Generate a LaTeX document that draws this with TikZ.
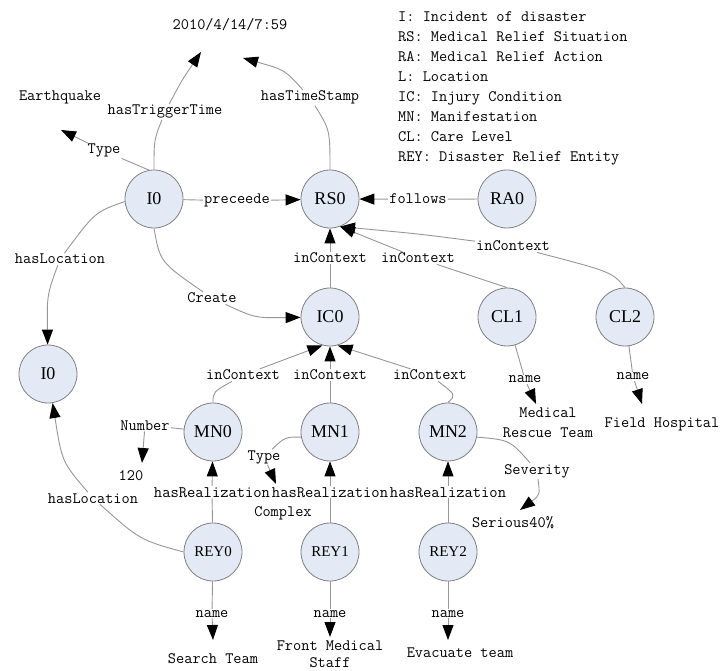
\documentclass[tikz,border=0pt]{standalone}
\usepackage{fontspec}
\newfontfamily\nodefont{Liberation Serif}
\usetikzlibrary{arrows.meta}
\definecolor{circFill}{RGB}{227,234,245}
\definecolor{circEdge}{RGB}{128,128,128}
\definecolor{lineGray}{RGB}{150,150,150}
\begin{document}
\begin{tikzpicture}[x=1pt,y=-1pt,
 ent/.style={circle,draw=circEdge,fill=circFill,line width=0.8pt,minimum size=58pt,inner sep=0pt,font=\nodefont\fontsize{18}{18}\selectfont},
 entsm/.style={ent,font=\nodefont\fontsize{15}{15}\selectfont},
 txt/.style={inner sep=1pt,font=\ttfamily\fontsize{15.9}{18}\selectfont,anchor=base},
 lbl/.style={txt,fill=white},
 hrlbl/.style={lbl,inner xsep=0pt,font=\ttfamily\fontsize{16.1}{18}\selectfont},
 ln/.style={draw=lineGray,line width=0.9pt},
 arr/.style={ln,-{Triangle[length=15pt,width=11pt,color=black]}}
]
\useasboundingbox (0,0) rectangle (721,671);

% entity circles
\node[ent] (I0) at (154,199) {I0};
\node[ent] (RS0) at (330,199) {RS0};
\node[ent] (RA0) at (507,199) {RA0};
\node[ent] (IC0) at (330,317) {IC0};
\node[ent] (CL1) at (507,317) {CL1};
\node[ent] (CL2) at (625,317) {CL2};
\node[ent] (L0) at (48,374) {I0};
\node[ent] (MN0) at (213,432) {MN0};
\node[ent] (MN1) at (330,432) {MN1};
\node[ent] (MN2) at (448,432) {MN2};
\node[entsm] (REY0) at (213,552) {REY0};
\node[entsm] (REY1) at (330,552) {REY1};
\node[entsm] (REY2) at (448,552) {REY2};

% value texts
\node[txt] (ts) at (230,30) {2010/4/14/7:59};
\node[txt] (eq) at (60,101) {Earthquake};
\node[txt] (v120) at (131,480) {120};
\node[txt] (cx) at (283,516) {Complex};
\node[txt] (ser) at (513,527) {Serious40\%};
\node[txt] (st) at (213,663) {Search Team};
\node[txt] (et) at (460,657) {Evacuate team};
\node[inner sep=1pt,font=\ttfamily\fontsize{15.9}{20}\selectfont,align=center] (mrt) at (548,423) {Medical\\Rescue Team};
\node[inner sep=1pt,font=\ttfamily\fontsize{15.9}{17}\selectfont,align=center] (fms) at (330,654) {Front Medical\\Staff};
\node[txt] (fh) at (662,428) {Field Hospital};

% legend
\node[txt,anchor=base west] (leg1) at (397,22) {I: Incident of disaster};
\node[txt,anchor=base west] (leg2) at (397,42) {RS: Medical Relief Situation};
\node[txt,anchor=base west] (leg3) at (397,62) {RA: Medical Relief Action};
\node[txt,anchor=base west] (leg4) at (397,82) {L: Location};
\node[txt,anchor=base west] (leg5) at (397,102) {IC: Injury Condition};
\node[txt,anchor=base west] (leg6) at (397,122) {MN: Manifestation};
\node[txt,anchor=base west] (leg7) at (397,142) {CL: Care Level};
\node[txt,anchor=base west] (leg8) at (397,162) {REY: Disaster Relief Entity};

% edge labels
\node[lbl] (lTT) at (165,115) {hasTriggerTime};
\node[lbl] (lTS) at (310,101) {hasTimeStamp};
\node[lbl] (lType) at (104,154) {Type};
\node[lbl] (lPre) at (237,204) {preceede};
\node[lbl] (lFol) at (418,204) {follows};
\node[lbl] (lLoc1) at (60,264) {hasLocation};
\node[lbl] (lCre) at (212,303) {Create};
\node[lbl] (lIC1) at (330,263) {inContext};
\node[lbl] (lIC2) at (418,263) {inContext};
\node[lbl] (lIC3) at (513,251) {inContext};
\node[lbl] (lIC4) at (243,380) {inContext};
\node[lbl] (lIC5) at (330,380) {inContext};
\node[lbl] (lIC6) at (430,380) {inContext};
\node[lbl] (lN1) at (525,383) {name};
\node[lbl] (lN2) at (633,380) {name};
\node[lbl] (lNum) at (145,430) {Number};
\node[lbl] (lTy2) at (264,460) {Type};
\node[lbl] (lSev) at (537,474) {Severity};
\node[hrlbl] (lHR0) at (212,497) {hasRealization};
\node[hrlbl] (lHR1) at (330,497) {hasRealization};
\node[hrlbl] (lHR2) at (448,497) {hasRealization};
\node[lbl] (lLoc2) at (93,503) {hasLocation};
\node[lbl] (lNm0) at (212,617) {name};
\node[lbl] (lNm1) at (330,617) {name};
\node[lbl] (lNm2) at (448,617) {name};

% free arrow ends
\coordinate (tEQ) at (61,130);
\coordinate (tTT) at (201,52);
\coordinate (tTS) at (243,58);
\coordinate (t120) at (142,463);
\coordinate (tCx) at (276,484);
\coordinate (tSer) at (520,510);
\coordinate (tN1) at (536,404);
\coordinate (tN2) at (642,404);
\coordinate (tSt) at (213,640);
\coordinate (tFm) at (330,637);
\coordinate (tEt) at (448,640);

% edges
\draw[ln] (I0.north) .. controls (154,140) .. (lTT);
\draw[arr] (lTT) .. controls (182,80) .. (tTT);
\draw[ln] (RS0.north) .. controls (330,130) .. (lTS);
\draw[arr] (lTS) .. controls (285,70) .. (tTS);
\draw[ln] (I0.100) -- (lType);
\draw[arr] (lType) -- (tEQ);
\draw[ln] (I0) -- (lPre);
\draw[arr] (lPre) -- (RS0);
\draw[ln] (RA0) -- (lFol);
\draw[arr] (lFol) -- (RS0);
\draw[ln] (IC0) -- (lIC1);
\draw[arr] (lIC1) -- (RS0);
\draw[ln] (CL1.north) -- (lIC2);
\draw[arr] (lIC2) -- (RS0.-70);
\draw[ln] (CL2.north) .. controls (612,272) .. (lIC3);
\draw[arr] (lIC3) .. controls (420,234) .. (RS0.-70);
\draw[ln] (I0.185) .. controls (95,212) .. (lLoc1);
\draw[arr] (lLoc1) .. controls (47,295) .. (L0);
\draw[ln] (I0.south) .. controls (160,262) .. (lCre);
\draw[arr] (lCre) .. controls (255,318) .. (IC0);
\draw[ln] (MN0.north) .. controls (213,392) .. (lIC4);
\draw[arr] (lIC4) -- (IC0.-105);
\draw[ln] (MN1) -- (lIC5);
\draw[arr] (lIC5) -- (IC0);
\draw[ln] (MN2.north) .. controls (456,395) .. (lIC6);
\draw[arr] (lIC6) -- (IC0.-75);
\draw[ln] (CL1) -- (lN1);
\draw[arr] (lN1) -- (tN1);
\draw[ln] (CL2) -- (lN2);
\draw[arr] (lN2) -- (tN2);
\draw[ln] (MN0) -- (lNum);
\draw[arr] (lNum) -- (t120);
\draw[ln] (MN1.190) .. controls (285,437) .. (lTy2);
\draw[arr] (lTy2) -- (tCx);
\draw[ln] (MN2.-10) .. controls (510,440) .. (lSev);
\draw[arr] (lSev) .. controls (540,495) .. (tSer);
\draw[ln] (REY0) -- (lHR0);
\draw[arr] (lHR0) -- (MN0);
\draw[ln] (REY1) -- (lHR1);
\draw[arr] (lHR1) -- (MN1);
\draw[ln] (REY2) -- (lHR2);
\draw[arr] (lHR2) -- (MN2);
\draw[ln] (REY0.west) .. controls (140,540) .. (lLoc2);
\draw[arr] (lLoc2) .. controls (62,462) .. (L0);
\draw[ln] (REY0) -- (lNm0);
\draw[arr] (lNm0) -- (tSt);
\draw[ln] (REY1) -- (lNm1);
\draw[arr] (lNm1) -- (tFm);
\draw[ln] (REY2) -- (lNm2);
\draw[arr] (lNm2) -- (tEt);
\end{tikzpicture}
\end{document}
